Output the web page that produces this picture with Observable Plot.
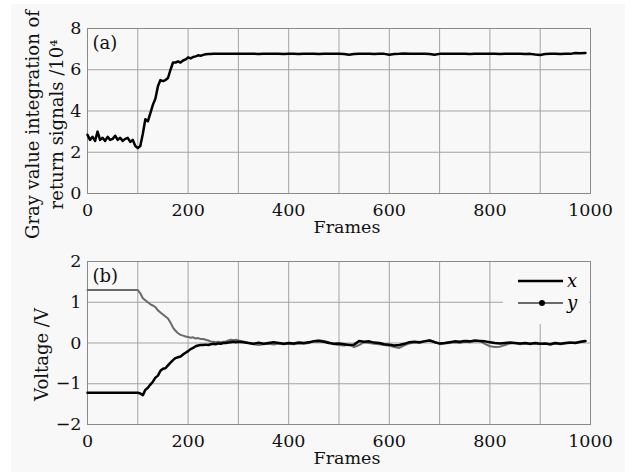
<!DOCTYPE html>
<html><head><meta charset="utf-8">
<script src="https://cdn.jsdelivr.net/npm/d3@7"></script>
<script src="https://cdn.jsdelivr.net/npm/@observablehq/plot@0.6"></script>
<style>
body{margin:0;background:#fff;width:638px;height:472px;overflow:hidden;position:relative;}
#fig{position:absolute;left:11px;top:4px;width:614px;height:468px;background:#f8f8f8;}
.panel{position:absolute;left:0;}
#legend{position:absolute;left:0;top:0;}
</style></head><body>
<div id="fig"></div>
<div id="top" class="panel" style="top:0px"></div>
<div id="bot" class="panel" style="top:245px"></div>
<svg id="legend" width="638" height="472">
  <rect x="503" y="262" width="86" height="62" fill="#f8f8f8"/>
  <line x1="518" x2="563" y1="281" y2="281" stroke="#000" stroke-width="2.5"/>
  <text x="567" y="281" dy="0.32em" font-family="DejaVu Serif" font-style="italic" font-size="18">x</text>
  <line x1="518" x2="563" y1="303" y2="303" stroke="#6a6a6a" stroke-width="2"/>
  <circle cx="542" cy="303" r="3" fill="#000"/>
  <text x="567" y="303" dy="0.32em" font-family="DejaVu Serif" font-style="italic" font-size="18">y</text>
</svg>
<script>
// ---------- Data ----------
const xTicks = [0, 200, 400, 600, 800, 1000];
const xGrid = [100, 200, 300, 400, 500, 600, 700, 800, 900];
const topYTicks = [0, 2, 4, 6, 8];
const topYGrid = [2, 4, 6];
const botYTicks = [-2, -1, 0, 1, 2];
const botYGrid = [-1, 0, 1];

// (a) gray value integration (x10^4): frames 0..250 step 5, then 260..990 step 10
const topFramesA = d3.range(0, 251, 5);
const topValuesA = [2.85, 2.6, 2.75, 2.55, 3.0, 2.6, 2.7, 2.55, 2.75, 2.6,
  2.65, 2.8, 2.6, 2.7, 2.55, 2.65, 2.7, 2.5, 2.6, 2.3,
  2.2, 2.3, 2.9, 3.6, 3.5, 3.9, 4.3, 4.6, 5.2, 5.5,
  5.45, 5.5, 5.6, 6.0, 6.35, 6.35, 6.4, 6.35, 6.45, 6.5,
  6.6, 6.55, 6.62, 6.65, 6.7, 6.68, 6.72, 6.75, 6.76, 6.76, 6.77];
const topFramesB = d3.range(260, 991, 10);
const topValuesB = [6.77, 6.78, 6.77, 6.77, 6.78, 6.77, 6.77, 6.78, 6.76, 6.78,
  6.77, 6.77, 6.78, 6.76, 6.77, 6.77, 6.76, 6.77, 6.78, 6.77,
  6.76, 6.77, 6.78, 6.77, 6.77, 6.76, 6.73, 6.76, 6.77, 6.78,
  6.77, 6.76, 6.77, 6.77, 6.73, 6.76, 6.77, 6.79, 6.78, 6.77,
  6.78, 6.77, 6.76, 6.73, 6.77, 6.78, 6.77, 6.78, 6.77, 6.77,
  6.76, 6.77, 6.78, 6.77, 6.77, 6.78, 6.76, 6.77, 6.78, 6.77,
  6.77, 6.76, 6.77, 6.74, 6.72, 6.76, 6.77, 6.77, 6.76, 6.77,
  6.77, 6.81, 6.80, 6.81];

// (b) voltages: frames 0,50,100, 105..300 step 5, then 310..990 step 10
const botFramesA = [0, 50, 100].concat(d3.range(105, 301, 5));
const voltXA = [-1.22, -1.22, -1.22, -1.24, -1.28, -1.15, -1.1, -1.02, -0.95, -0.85,
  -0.8, -0.68, -0.63, -0.62, -0.55, -0.48, -0.42, -0.37, -0.35, -0.33,
  -0.28, -0.24, -0.2, -0.15, -0.12, -0.08, -0.06, -0.05, -0.05, -0.04,
  -0.05, -0.03, -0.02, -0.03, -0.01, -0.02, 0.0, 0.0, 0.01, 0.02,
  0.03, 0.02, 0.03];
const voltYA = [1.3, 1.3, 1.3, 1.22, 1.1, 1.05, 1.0, 0.95, 0.92, 0.88,
  0.8, 0.75, 0.7, 0.65, 0.6, 0.5, 0.38, 0.3, 0.24, 0.2,
  0.18, 0.16, 0.15, 0.13, 0.14, 0.11, 0.12, 0.1, 0.1, 0.08,
  0.06, 0.04, 0.03, 0.02, 0.03, 0.02, 0.03, 0.04, 0.06, 0.08,
  0.07, 0.08, 0.06];
const botFramesB = d3.range(310, 991, 10);
const voltXB = [0.02, 0.0, -0.02, 0.01, -0.02, 0.0, 0.02, 0.0, -0.02, 0.0,
  -0.01, 0.01, 0.0, 0.02, 0.04, 0.05, 0.03, 0.0, -0.02, -0.01,
  -0.03, -0.05, -0.04, 0.05, 0.03, 0.04, 0.01, 0.0, -0.03, -0.04,
  -0.06, -0.05, -0.02, 0.02, 0.03, 0.02, 0.04, 0.06, 0.02, -0.01,
  0.0, 0.02, 0.04, 0.03, 0.05, 0.04, 0.06, 0.05, 0.04, 0.02,
  0.0, -0.01, 0.0, 0.01, 0.0, -0.01, 0.0, -0.02, 0.0, -0.02,
  -0.01, -0.03, 0.0, -0.02, 0.0, 0.01, 0.0, 0.03, 0.05];
const voltYB = [0.04, 0.0, -0.03, -0.05, -0.03, -0.02, -0.04, -0.01, -0.03, -0.02,
  -0.03, -0.01, -0.02, 0.0, 0.05, 0.07, 0.05, 0.02, -0.03, -0.05,
  -0.06, -0.04, -0.1, -0.05, 0.02, 0.0, -0.02, -0.03, -0.05, -0.07,
  -0.1, -0.12, -0.06, -0.01, 0.02, 0.0, 0.05, 0.07, 0.03, -0.03,
  -0.01, 0.0, 0.02, 0.0, 0.03, 0.02, 0.04, 0.05, -0.02, -0.08,
  -0.1, -0.09, -0.05, -0.01, 0.0, -0.03, -0.01, -0.03, -0.01, -0.03,
  -0.02, -0.04, -0.01, -0.03, -0.01, 0.0, 0.01, 0.02, 0.04];

// ---------- Tables ----------
const topData = topFramesA.map((f, i) => ({frame: f, v: topValuesA[i]}))
  .concat(topFramesB.map((f, i) => ({frame: f, v: topValuesB[i]})));
const botFrames = botFramesA.concat(botFramesB);
const vx = voltXA.concat(voltXB);
const vy = voltYA.concat(voltYB);
const botX = botFrames.map((f, i) => ({frame: f, v: vx[i]}));
const botY = botFrames.map((f, i) => ({frame: f, v: vy[i]}));

const FONT = "DejaVu Serif";
const FS = 17.5;
const gridStyle = {stroke: "#a3a3a3", strokeOpacity: 1, strokeWidth: 1};

function common(yDomain, yTicks, yGrid, height, mt, mb, panelLabel, yLabel, yLabDx, yLabDy, framesDy) {
  return {
    width: 638, height, marginLeft: 87, marginRight: 48, marginTop: mt, marginBottom: mb,
    style: {background: "transparent", fontFamily: FONT, fontSize: FS + "px", color: "#111", overflow: "visible"},
    x: {domain: [0, 1000]},
    y: {domain: yDomain},
    marks: [
      Plot.gridX(xGrid, gridStyle),
      Plot.gridY(yGrid, gridStyle),
      Plot.frame({stroke: "#8a8a8a", strokeWidth: 1}),
      Plot.axisX(xTicks, {tickSize: 0, tickPadding: 10, label: null, fontSize: FS, tickFormat: d => String(d)}),
      Plot.axisY(yTicks, {tickSize: 0, tickPadding: 6, label: null, fontSize: FS}),
      Plot.text([panelLabel], {frameAnchor: "top-left", dx: 5, dy: 8, fontSize: 18, fill: "#111"}),
      Plot.text(["Frames"], {frameAnchor: "bottom", dx: 8, dy: framesDy, fontSize: FS, fill: "#111"}),
      Plot.text([yLabel], {frameAnchor: "left", textAnchor: "middle", lineAnchor: "middle", dx: yLabDx, dy: yLabDy, rotate: -90, fontSize: 18, lineHeight: 1.33, fill: "#111"})
    ]
  };
}

const topOpts = common([0, 8], topYTicks, topYGrid, 245, 28, 52, "(a)",
  "Gray value integration of\nreturn signals /10⁴", -44, 13.5, 39);
topOpts.marks.push(Plot.line(topData, {x: "frame", y: "v", stroke: "#000", strokeWidth: 2.5}));
document.getElementById("top").append(Plot.plot(topOpts));

const botOpts = common([-2, 2], botYTicks, botYGrid, 227, 16, 48, "(b)",
  "Voltage /V", -47, 11.5, 39);
botOpts.marks.push(
  Plot.line(botY, {x: "frame", y: "v", stroke: "#6a6a6a", strokeWidth: 2}),
  Plot.line(botX, {x: "frame", y: "v", stroke: "#000", strokeWidth: 2.5})
);
document.getElementById("bot").append(Plot.plot(botOpts));
</script>
</body></html>
